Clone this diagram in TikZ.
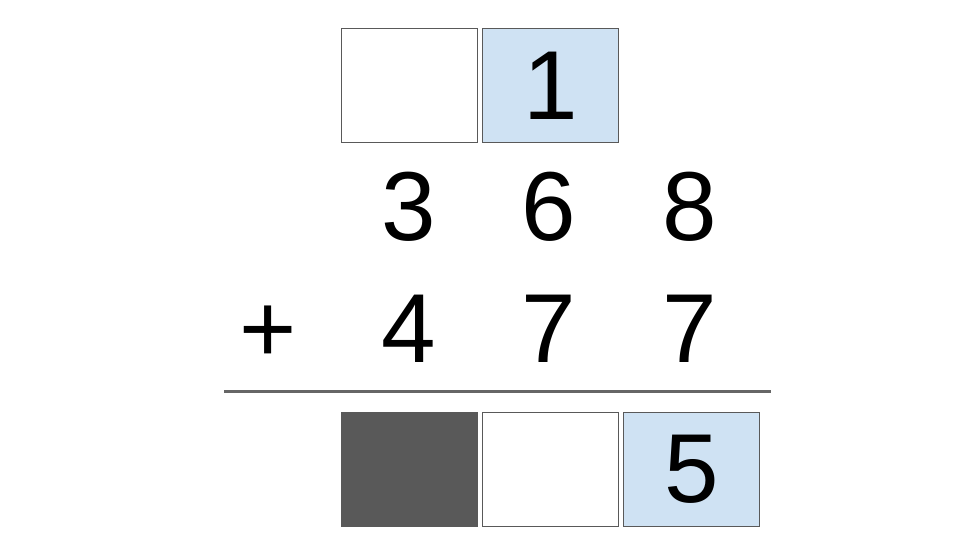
\documentclass[tikz,border=0pt]{standalone}
\usepackage{fontspec}
\setmainfont{Liberation Sans}
\definecolor{boxline}{HTML}{595959}
\definecolor{lightblue}{HTML}{CFE2F3}
\definecolor{darkfill}{HTML}{595959}
\definecolor{rulegray}{HTML}{666666}
\begin{document}
\begin{tikzpicture}[x=1pt,y=-1pt,
  cell/.style={draw=boxline,line width=1pt,minimum width=136pt,minimum height=114pt,inner sep=0pt,anchor=north west,font=\fontsize{98}{98}\selectfont},
  digit/.style={anchor=base,inner sep=0pt,font=\fontsize{98}{98}\selectfont}]
\useasboundingbox (0,0) rectangle (960,540);
% top carry boxes
\node[cell] (c1) at (341,28) {};
\node[cell,fill=lightblue] (c2) at (482,28) {1};
% first addend
\node[digit] (a1) at (409,240) {3};
\node[digit] (a2) at (549,240) {6};
\node[digit] (a3) at (690,240) {8};
% second addend
\node[digit] (plus) at (268,362) {+};
\node[digit] (b1) at (409,362) {4};
\node[digit] (b2) at (549,362) {7};
\node[digit] (b3) at (690,362) {7};
% rule
\coordinate (l1) at (224,391);
\coordinate (l2) at (771,391);
\draw[rulegray,line width=3pt] (l1) -- (l2);
% answer boxes
\node[cell,fill=darkfill] (r1) at (341,412) {};
\node[cell] (r2) at (482,412) {};
\node[cell,fill=lightblue] (r3) at (623,412) {5};
\end{tikzpicture}
\end{document}
